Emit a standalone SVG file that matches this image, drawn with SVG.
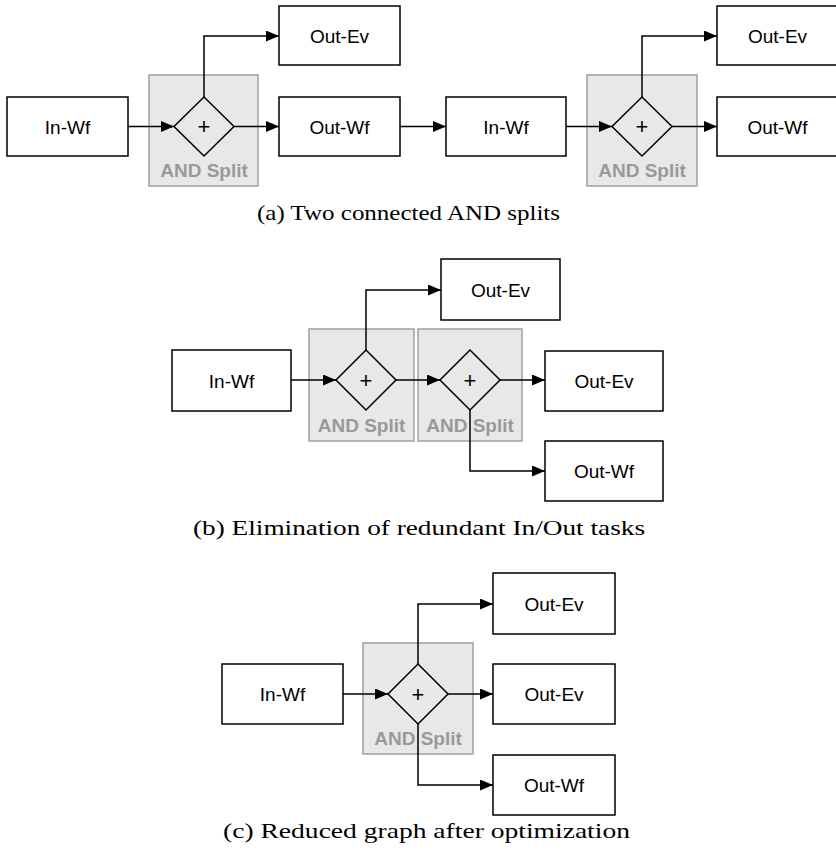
<svg xmlns="http://www.w3.org/2000/svg" width="836" height="858" viewBox="0 0 836 858">
  <style>
    .task { fill: #ffffff; stroke: #000000; stroke-width: 1.5; }
    .split { fill: #e8e8e8; stroke: #a0a0a0; stroke-width: 1.5; }
    .gate { fill: none; stroke: #000000; stroke-width: 1.5; }
    .lbl { font-family: "Liberation Sans", Arial, sans-serif; font-size: 19px; fill: #000000; text-anchor: middle; }
    .plus { font-family: "Liberation Sans", Arial, sans-serif; font-size: 22px; fill: #000000; text-anchor: middle; }
    .slbl { font-family: "Liberation Sans", Arial, sans-serif; font-size: 19px; font-weight: bold; fill: #999999; text-anchor: middle; }
    .cap { font-family: "Liberation Serif", "Times New Roman", serif; font-size: 22px; fill: #000000; }
    .edge { fill: none; stroke: #000000; stroke-width: 1.5; marker-end: url(#arrow); }
  </style>
  <defs>
    <marker id="arrow" markerUnits="userSpaceOnUse" markerWidth="13" markerHeight="11" refX="13" refY="5.5" orient="auto">
      <path d="M0,0 L13,5.5 L0,11 z" fill="#000000"/>
    </marker>
  </defs>
  <rect width="836" height="858" fill="#ffffff"/>

  <!-- (a) two connected AND splits -->
  <g id="a-split1">
    <rect class="split" x="149" y="75" width="109" height="111"/>
    <text class="slbl" x="204" y="177">AND Split</text>
    <path class="gate" d="M204,97 L234,126.5 L204,156 L174,126.5 Z"/>
    <text class="plus" x="204" y="134">+</text>
  </g>
  <g id="a-split2">
    <rect class="split" x="587" y="75" width="110" height="111"/>
    <text class="slbl" x="642" y="177">AND Split</text>
    <path class="gate" d="M642,97 L672,126.5 L642,156 L612,126.5 Z"/>
    <text class="plus" x="642" y="134">+</text>
  </g>
  <g id="a-inwf1">
    <rect class="task" x="7" y="97" width="121" height="59"/>
    <text class="lbl" x="67.5" y="133.5">In-Wf</text>
  </g>
  <g id="a-outev1">
    <rect class="task" x="279" y="6" width="121" height="59"/>
    <text class="lbl" x="339.5" y="42.5">Out-Ev</text>
  </g>
  <g id="a-outwf1">
    <rect class="task" x="279" y="97" width="121" height="59"/>
    <text class="lbl" x="339.5" y="133.5">Out-Wf</text>
  </g>
  <g id="a-inwf2">
    <rect class="task" x="446" y="97" width="120" height="59"/>
    <text class="lbl" x="506" y="133.5">In-Wf</text>
  </g>
  <g id="a-outev2">
    <rect class="task" x="717" y="6" width="121" height="59"/>
    <text class="lbl" x="777.5" y="42.5">Out-Ev</text>
  </g>
  <g id="a-outwf2">
    <rect class="task" x="717" y="97" width="121" height="59"/>
    <text class="lbl" x="777.5" y="133.5">Out-Wf</text>
  </g>
  <text class="cap" x="257" y="220" textLength="303" lengthAdjust="spacingAndGlyphs">(a) Two connected AND splits</text>

  <!-- (b) elimination of redundant In/Out tasks -->
  <g id="b-split1">
    <rect class="split" x="309" y="329" width="105" height="112"/>
    <text class="slbl" x="361.5" y="432">AND Split</text>
    <path class="gate" d="M366,350 L396,380 L366,410 L336,380 Z"/>
    <text class="plus" x="366" y="388">+</text>
  </g>
  <g id="b-split2">
    <rect class="split" x="418" y="329" width="104" height="112"/>
    <text class="slbl" x="470" y="432">AND Split</text>
    <path class="gate" d="M470,350 L500,380 L470,410 L440,380 Z"/>
    <text class="plus" x="470" y="388">+</text>
  </g>
  <g id="b-inwf">
    <rect class="task" x="172" y="350" width="119" height="61"/>
    <text class="lbl" x="231.5" y="387.5">In-Wf</text>
  </g>
  <g id="b-outev1">
    <rect class="task" x="441" y="259" width="119" height="61"/>
    <text class="lbl" x="500.5" y="296.5">Out-Ev</text>
  </g>
  <g id="b-outev2">
    <rect class="task" x="545" y="351" width="118" height="60"/>
    <text class="lbl" x="604" y="388">Out-Ev</text>
  </g>
  <g id="b-outwf">
    <rect class="task" x="545" y="441" width="118" height="60"/>
    <text class="lbl" x="604" y="478">Out-Wf</text>
  </g>
  <text class="cap" x="193" y="535" textLength="452" lengthAdjust="spacingAndGlyphs">(b) Elimination of redundant In/Out tasks</text>

  <!-- (c) reduced graph after optimization -->
  <g id="c-split">
    <rect class="split" x="363" y="643" width="110" height="111"/>
    <text class="slbl" x="418" y="745">AND Split</text>
    <path class="gate" d="M418,664 L448,694 L418,724 L388,694 Z"/>
    <text class="plus" x="418" y="702">+</text>
  </g>
  <g id="c-inwf">
    <rect class="task" x="222" y="664" width="121" height="60"/>
    <text class="lbl" x="282.5" y="701">In-Wf</text>
  </g>
  <g id="c-outev1">
    <rect class="task" x="493" y="573" width="122" height="61"/>
    <text class="lbl" x="554" y="610.5">Out-Ev</text>
  </g>
  <g id="c-outev2">
    <rect class="task" x="493" y="664" width="122" height="60"/>
    <text class="lbl" x="554" y="701">Out-Ev</text>
  </g>
  <g id="c-outwf">
    <rect class="task" x="493" y="755" width="122" height="60"/>
    <text class="lbl" x="554" y="792">Out-Wf</text>
  </g>
  <text class="cap" x="223" y="838" textLength="407" lengthAdjust="spacingAndGlyphs">(c) Reduced graph after optimization</text>

  <g id="connectors">
    <!-- (a) -->
    <path class="edge" d="M128,126.5 L174,126.5"/>
    <path class="edge" d="M234,126.5 L279,126.5"/>
    <path class="edge" d="M204,97 L204,36 L279,36"/>
    <path class="edge" d="M400,126.5 L446,126.5"/>
    <path class="edge" d="M566,126.5 L612,126.5"/>
    <path class="edge" d="M672,126.5 L717,126.5"/>
    <path class="edge" d="M642,97 L642,36 L717,36"/>
    <!-- (b) -->
    <path class="edge" d="M291,380 L336,380"/>
    <path class="edge" d="M396,380 L440,380"/>
    <path class="edge" d="M366,350 L366,290 L441,290"/>
    <path class="edge" d="M500,380 L545,380"/>
    <path class="edge" d="M470,410 L470,471 L545,471"/>
    <!-- (c) -->
    <path class="edge" d="M343,694 L388,694"/>
    <path class="edge" d="M448,694 L493,694"/>
    <path class="edge" d="M418,664 L418,604 L493,604"/>
    <path class="edge" d="M418,724 L418,785 L493,785"/>
  </g>
</svg>
